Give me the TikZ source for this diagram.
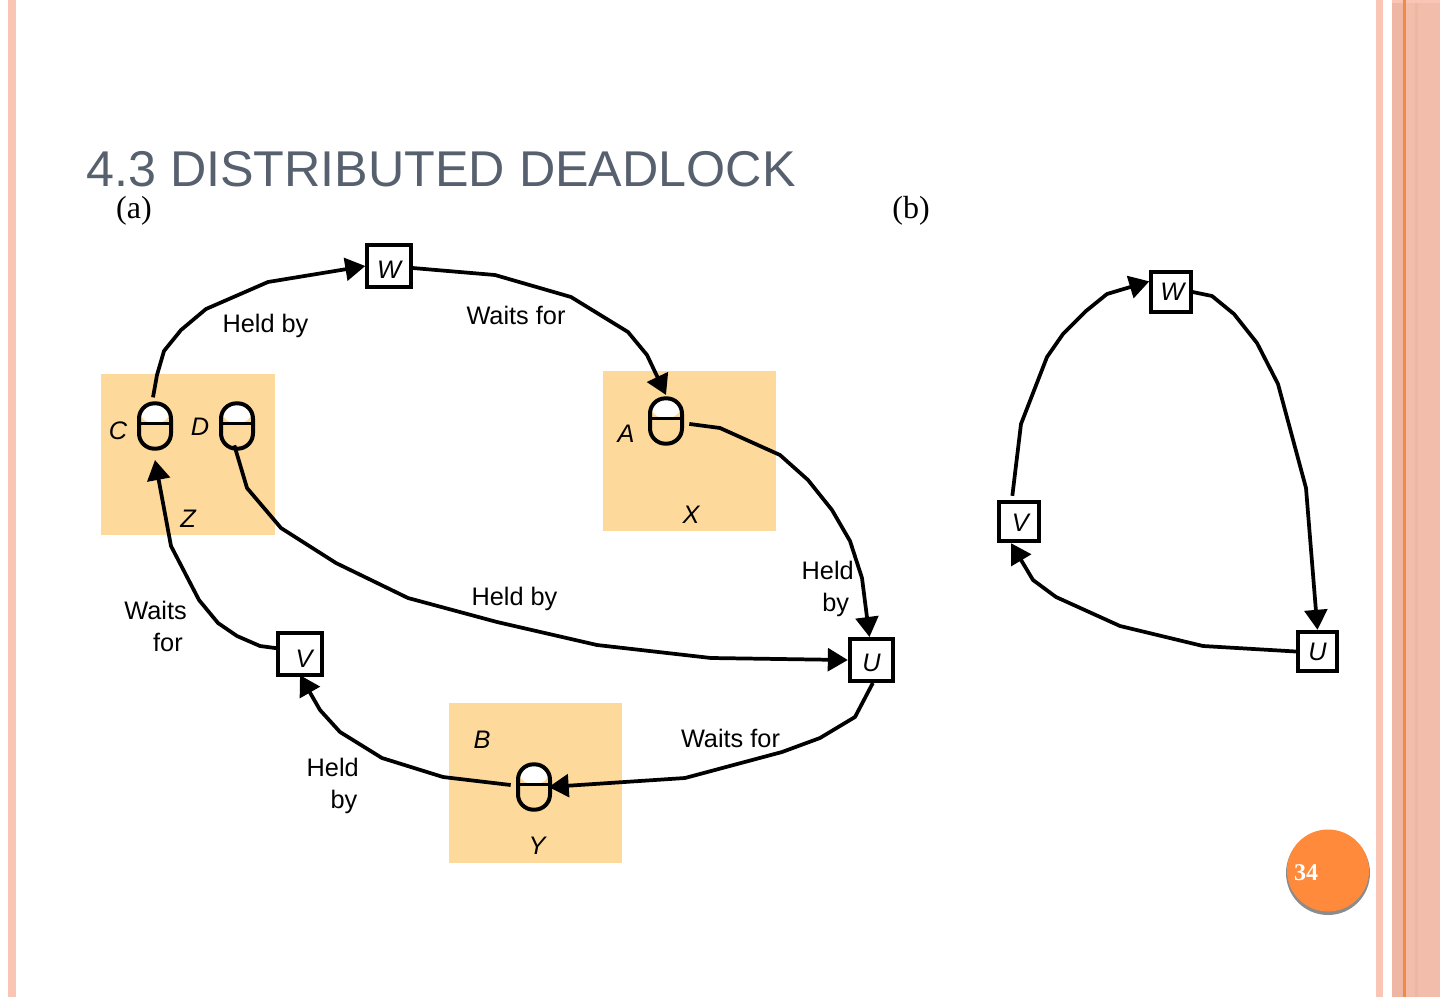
\documentclass[tikz,border=0pt]{standalone}
\usepackage{fontspec}
\setmainfont{Liberation Sans}
\newfontfamily\serifcap{Liberation Serif}
\usetikzlibrary{arrows.meta}
\definecolor{zone}{HTML}{FDD99B}
\definecolor{titlec}{HTML}{56606E}
\definecolor{stripe}{HTML}{F2BDAA}
\definecolor{stripel}{HTML}{FBC5B5}
\definecolor{stripem}{HTML}{EFB7A3}
\definecolor{orangel}{HTML}{F08A45}
\definecolor{badge}{HTML}{FF8A3C}
\tikzset{
  zonebox/.style={fill=zone,draw=none,minimum width=130pt,minimum height=120pt,inner sep=0pt},
  proc/.style={draw=black,line width=3pt,fill=white,inner sep=0pt,minimum width=32.5pt,minimum height=31.5pt},
  procb/.style={proc,minimum width=29.5pt,minimum height=29.5pt},
  lockn/.style={draw=black,line width=3pt,rounded corners=11.5pt,inner sep=0pt,minimum width=24pt,minimum height=34pt,
    path picture={
      \fill[white] (path picture bounding box.north west) rectangle ([yshift=2pt]path picture bounding box.east);
      \draw[black,line width=2.6pt] ([yshift=2pt]path picture bounding box.west) -- ([yshift=2pt]path picture bounding box.east);
    }},
  lbl/.style={font=\fontsize{19}{24}\selectfont,align=right,inner sep=0pt},
  ilbl/.style={font=\fontsize{19}{24}\selectfont\itshape,inner sep=0pt},
  conn/.style={line width=2.8pt,line join=round,draw=black},
  arr/.style={conn,-{Triangle[length=15pt,width=17pt]}},
  capl/.style={font=\serifcap\fontsize{24}{28}\selectfont,inner sep=0pt}
}
\begin{document}
\begin{tikzpicture}[x=0.75pt,y=-0.75pt]
\useasboundingbox (0,0) rectangle (1440,997);
\fill[white] (0,0) rectangle (1440,997);
% side bars
\fill[stripel] (8,0) rectangle (16,997);
\fill[stripel] (1376,0) rectangle (1383,997);
\fill[stripe] (1392,0) rectangle (1440,997);
\fill[stripem] (1392,0) rectangle (1403,997);
\fill[stripem] (1415,0) rectangle (1418,997);
\fill[stripel] (1392,0) rectangle (1440,3);
\fill[orangel] (1403,0) rectangle (1405.5,997);
% title
\node[anchor=west,text=titlec,inner sep=0pt,font=\fontsize{37.7}{40}\selectfont] (title) at (86,169) {4.3 DISTRIBUTED DEADLOCK};
\node[capl] (capa) at (134,211) {(a)};
\node[capl] (capb) at (911,211) {(b)};
% zones
\node[zonebox,minimum height=120.75pt] (Z) at (188,454.5) {};
\node[zonebox] (X) at (689.5,451) {};
\node[zonebox] (Y) at (535.5,783) {};
% locks
\node[lockn] (C) at (155,426) {};
\node[lockn] (D) at (237,426) {};
\node[lockn] (A) at (666,421) {};
\node[lockn] (B) at (534,787) {};
% processes (a)
\node[proc] (W) at (389,266) {};
\node[proc] (U) at (871.5,660) {};
\node[proc] (V) at (300,653.5) {};
\node[ilbl] at (W.center) [yshift=-3pt] (wt) {W};
\node[ilbl] at (U.center) [yshift=-2pt] (ut) {U};
\node[ilbl] at (V.center) [yshift=-4pt,xshift=3pt] (vt) {V};
% processes (b)
\node[procb] (Wb) at (1171,292) {};
\node[procb] (Vb) at (1019,521.5) {};
\node[procb] (Ub) at (1317.5,651.5) {};
\node[ilbl] at (Wb.center) [xshift=1pt] (wbt) {W};
\node[ilbl] at (Vb.center) [yshift=-1pt,xshift=1pt] (vbt) {V};
\node[ilbl] at (Ub.center) (ubt) {U};
% labels
\node[ilbl] (lC) at (118,431) {C};
\node[ilbl] (lD) at (200,427) {D};
\node[ilbl] (lZ) at (188,519) {Z};
\node[ilbl] (lA) at (626,434) {A};
\node[ilbl] (lX) at (691,515) {X};
\node[ilbl] (lB) at (482,740) {B};
\node[ilbl] (lY) at (537,846) {Y};
\node[lbl] (h1) at (265.5,326) {Held by};
\node[lbl] (w1) at (516,315) {Waits for};
\node[lbl] (h2) at (514.5,599) {Held by};
\node[lbl,anchor=east] (h3) at (854,589) {Held\\by\hspace*{3.5pt}};
\node[lbl,anchor=east] (w2) at (187,626) {Waits\\for\hspace*{3pt}};
\node[lbl] (w3) at (730.5,738) {Waits for};
\node[lbl,anchor=east] (h4) at (359,786) {Held\\by\hspace*{1pt}};
% connectors (a)
\draw[arr] ([xshift=-1.5pt,yshift=3pt]C.north) -- (157,375) -- (164,351) -- (181,330) -- (206,309) -- (268,282) -- (W.west);
\draw[arr] ([yshift=-1.5pt]W.east) -- (495,275) -- (571,297) -- (628,332) -- (647,355) -- ([yshift=1pt]A.north);
\draw[arr] ([xshift=-2pt,yshift=4pt]D.south) -- (247,488) -- (281,528) -- (336,563) -- (408,598) -- (497,622) -- (597,645) -- (711,658) -- (U.west);
\draw[arr] ([xshift=4pt,yshift=-2.2pt]A.east) -- (720,428) -- (780,455) -- (808,480) -- (832,510) -- (850,541) -- (862,578) -- ([xshift=-1.5pt]U.north);
\draw[arr] ([xshift=1pt]U.south) -- (855,717) -- (820,738) -- (782,752) -- (685,778) -- ([xshift=-2.5pt]B.east);
\draw[arr] ([xshift=-4pt,yshift=1.5pt]B.west) -- (443,777) -- (382,758) -- (340,732) -- (320,710) -- ([yshift=1pt]V.south);
\draw[arr] ([yshift=4pt]V.west) -- (260,646) -- (237,636) -- (218,623) -- (199,600) -- (171,546) -- ([yshift=-7pt]C.south);
% connectors (b)
\draw[arr] ([xshift=-5pt,yshift=3pt]Vb.north) -- (1021,424) -- (1047,357) -- (1063,334) -- (1086,311) -- (1107,294) -- ([yshift=8pt]Wb.west);
\draw[arr] (Wb.east) -- (1212,296) -- (1234,314) -- (1257,343) -- (1278,384) -- (1306,488) -- (Ub.north);
\draw[arr] (Ub.west) -- (1203,646) -- (1120,626) -- (1056,597) -- (1033,580) -- ([xshift=-6pt]Vb.south);
% badge
\fill[black!45] (1328,873) circle (42);
\fill[badge] (1328,870.5) circle (41);
\node[inner sep=0pt,text=white,font=\serifcap\bfseries\fontsize{18}{20}\selectfont] (num) at (1306,873) {34};
\end{tikzpicture}
\end{document}
